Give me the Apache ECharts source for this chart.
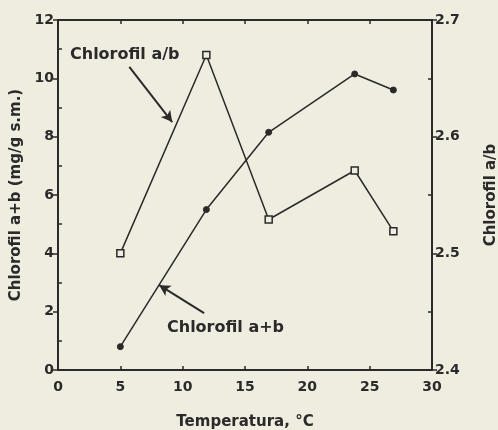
<!DOCTYPE html>
<html><head><meta charset="utf-8">
<script src="https://cdn.jsdelivr.net/npm/echarts@6/dist/echarts.min.js"></script>
<style>html,body{margin:0;padding:0;background:#efede0;}#c{width:498px;height:430px;}</style>
</head><body><div id="c"></div>
<script>
// Data
const temperature = [5, 11.9, 16.9, 23.8, 26.9];
const chlAB = [0.8, 5.5, 8.15, 10.15, 9.6];       // Chlorofil a+b (mg/g s.m.)
const chlRatio = [2.50, 2.67, 2.529, 2.571, 2.519]; // Chlorofil a/b
const xTicks = [0, 5, 10, 15, 20, 25, 30];
const leftMinor = [1, 3, 5, 7, 9, 11];
const rightMinor = [2.45, 2.55, 2.65];
// annotation arrows (data coords): [start, end]
const arrowRatio = [[5.72, 10.39], [9.16, 8.5]];
const arrowSum = [[11.72, 1.95], [8.12, 2.91]];

const INK = '#2a2a2a';
const FONT = 'DejaVu Sans';
const chart = echarts.init(document.getElementById('c'));
const lbl = {color: INK, fontFamily: FONT, fontWeight: 'bold', fontSize: 14};
const ttl = {color: INK, fontFamily: FONT, fontWeight: 'bold', fontSize: 15};

chart.setOption({
  backgroundColor: '#efede0',
  animation: false,
  grid: {left: 58, right: 66, top: 20, bottom: 60, containLabel: false, outerBoundsMode: 'none'},
  xAxis: [
    {type: 'value', min: 0, max: 30, interval: 5, position: 'bottom',
     axisLine: {show: true, onZero: false, lineStyle: {color: INK, width: 2}},
     axisTick: {show: true, inside: true, length: 4, lineStyle: {color: INK, width: 1.5}},
     axisLabel: Object.assign({margin: 10}, lbl),
     splitLine: {show: false},
     name: 'Temperatura, °C', nameLocation: 'middle', nameGap: 45,
     nameTextStyle: ttl},
    {type: 'value', min: 0, max: 30, interval: 5, position: 'top',
     axisLine: {show: true, onZero: false, lineStyle: {color: INK, width: 2}},
     axisTick: {show: true, inside: true, length: 4, lineStyle: {color: INK, width: 1.5}},
     axisLabel: {show: false}, splitLine: {show: false}}
  ],
  yAxis: [
    {type: 'value', min: 0, max: 12, interval: 2, position: 'left',
     axisLine: {show: true, onZero: false, lineStyle: {color: INK, width: 2}},
     axisTick: {show: true, inside: false, length: 5, lineStyle: {color: INK, width: 1.5}},
     axisLabel: Object.assign({margin: 4}, lbl),
     splitLine: {show: false},
     name: 'Chlorofil a+b (mg/g s.m.)', nameLocation: 'middle', nameGap: 31, nameRotate: 90,
     nameTextStyle: ttl},
    {type: 'value', min: 2.4, max: 2.7, interval: 0.1, position: 'right',
     axisLine: {show: true, onZero: false, lineStyle: {color: INK, width: 2}},
     axisTick: {show: true, inside: false, length: 5, lineStyle: {color: INK, width: 1.5}},
     axisLabel: Object.assign({margin: 3, formatter: v => v.toFixed(1)}, lbl),
     splitLine: {show: false},
     name: 'Chlorofil a/b', nameLocation: 'middle', nameGap: 52, nameRotate: 90,
     nameTextStyle: ttl},
    {type: 'value', min: 0, max: 12, position: 'left',
     axisLine: {show: false, onZero: false},
     axisTick: {show: true, inside: true, length: 4, customValues: leftMinor, lineStyle: {color: INK, width: 1.5}},
     axisLabel: {show: false}, splitLine: {show: false}},
    {type: 'value', min: 2.4, max: 2.7, position: 'right',
     axisLine: {show: false, onZero: false},
     axisTick: {show: true, inside: true, length: 4, customValues: rightMinor, lineStyle: {color: INK, width: 1.5}},
     axisLabel: {show: false}, splitLine: {show: false}}
  ],
  series: [
    {type: 'line', name: 'Chlorofil a+b', xAxisIndex: 0, yAxisIndex: 0,
     data: temperature.map((t, i) => [t, chlAB[i]]),
     symbol: 'circle', symbolSize: 6,
     lineStyle: {color: INK, width: 1.5},
     itemStyle: {color: INK, borderColor: INK, borderWidth: 1},
     markLine: {silent: true, symbol: ['none', 'arrow'], symbolSize: [9, 11],
       lineStyle: {color: INK, width: 2, type: 'solid'}, label: {show: false},
       data: [
         [{coord: arrowRatio[0]}, {coord: arrowRatio[1]}],
         [{coord: arrowSum[0]}, {coord: arrowSum[1]}]
       ]}},
    {type: 'line', name: 'Chlorofil a/b', xAxisIndex: 0, yAxisIndex: 1,
     data: temperature.map((t, i) => [t, chlRatio[i]]),
     symbol: 'rect', symbolSize: 7,
     lineStyle: {color: INK, width: 1.5},
     itemStyle: {color: '#efede0', borderColor: INK, borderWidth: 1.5}}
  ],
  graphic: [
    {type: 'text', left: 70, top: 47, style: {text: 'Chlorofil a/b', fill: INK, font: 'bold 16px "DejaVu Sans"'}},
    {type: 'text', left: 167, top: 320, style: {text: 'Chlorofil a+b', fill: INK, font: 'bold 16px "DejaVu Sans"'}}
  ]
});
</script></body></html>
